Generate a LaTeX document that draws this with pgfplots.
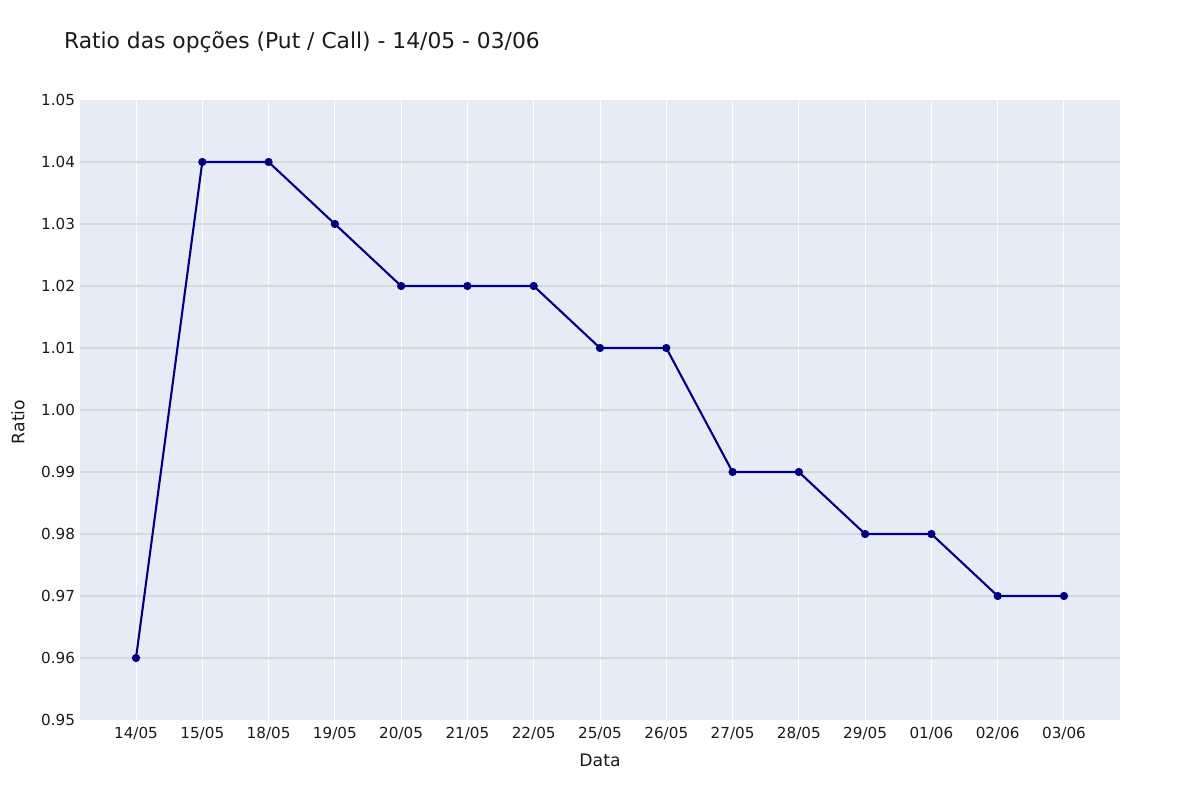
\documentclass[border=0pt]{standalone}
\usepackage{pgfplots}
\pgfplotsset{compat=1.18}
\usepackage{fontspec}
\setmainfont{DejaVu Sans}
\definecolor{bgc}{HTML}{E5ECF6}
\definecolor{hgrid}{HTML}{D6D8DB}
\definecolor{linec}{HTML}{000080}
\definecolor{txt}{HTML}{1A1A1A}
\begin{document}
\begin{tikzpicture}
\path[use as bounding box] (0,0) rectangle (600pt,400pt);
\node[anchor=west,text=txt,font=\fontsize{10.9pt}{13pt}\selectfont] at (28.5pt,379pt) {Ratio das opções (Put / Call) - 14/05 - 03/06};
\node[rotate=90,text=txt,font=\fontsize{8.6pt}{10pt}\selectfont] at (9pt,189pt) {Ratio};
\node[text=txt,font=\fontsize{8.6pt}{10pt}\selectfont] at (300pt,20pt) {Data};
\begin{axis}[
  at={(40pt,40pt)}, anchor=south west,
  width=520pt, height=310pt, scale only axis,
  xmin=-0.845, xmax=14.845,
  ymin=0.95, ymax=1.05,
  axis background/.style={fill=bgc},
  axis line style={draw=none},
  tick style={draw=none},
  xtick={0,...,14},
  xticklabels={14/05,15/05,18/05,19/05,20/05,21/05,22/05,25/05,26/05,27/05,28/05,29/05,01/06,02/06,03/06},
  ytick={0.96,0.97,0.98,0.99,1.00,1.01,1.02,1.03,1.04},
  extra y ticks={0.95,1.05},
  extra y tick style={grid=none},
  yticklabel style={/pgf/number format/.cd,fixed,fixed zerofill,precision=2},
  /pgf/number format/assume math mode=true,
  ticklabel style={text=txt,font=\fontsize{7.6pt}{9pt}\selectfont},
  xtick pos=bottom, ytick pos=left,
  xticklabel shift=0pt, yticklabel shift=-1pt,
  xmajorgrids, ymajorgrids,
  x grid style={white, line width=0.5pt},
  y grid style={hgrid, line width=0.6pt},
]
\addplot[linec, line width=1.05pt, mark=*, mark size=1.5pt, mark options={fill=linec}] coordinates {
(0,0.96) (1,1.04) (2,1.04) (3,1.03) (4,1.02) (5,1.02) (6,1.02) (7,1.01) (8,1.01) (9,0.99) (10,0.99) (11,0.98) (12,0.98) (13,0.97) (14,0.97)
};
\end{axis}
\end{tikzpicture}
\end{document}
